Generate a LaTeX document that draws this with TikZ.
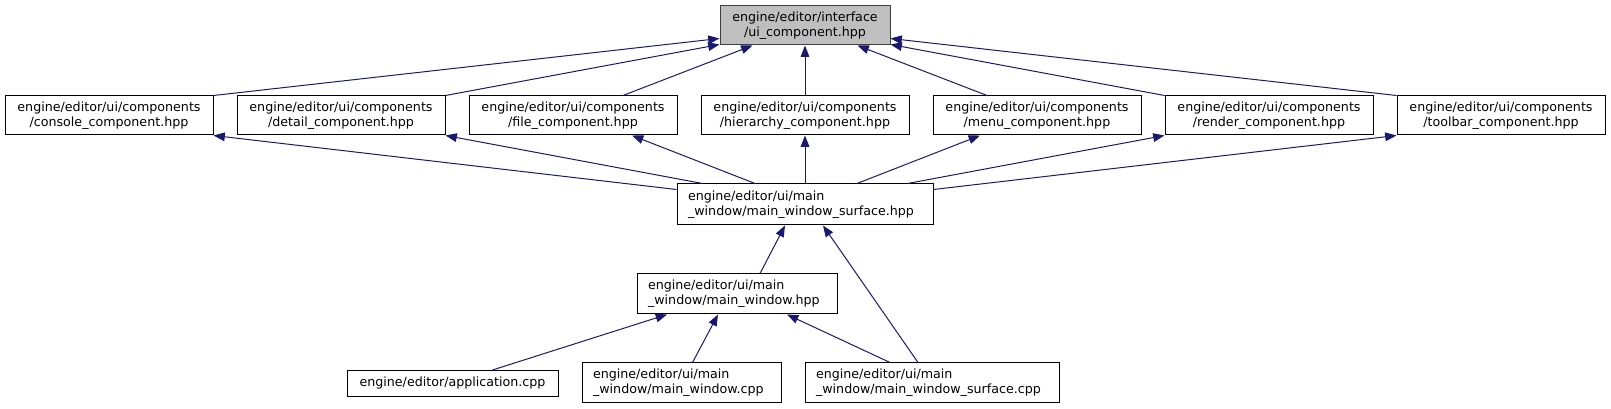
\documentclass[tikz,border=0pt]{standalone}
\usepackage{fontspec}
\setmainfont{DejaVu Sans}
\usetikzlibrary{arrows.meta,calc}
\definecolor{edgecol}{HTML}{191970}
\definecolor{topfill}{HTML}{BFBFBF}
\definecolor{topdraw}{HTML}{404040}
\tikzset{
  box/.style={draw=black, line width=0.75pt, fill=white, inner ysep=0pt, inner xsep=0pt,
    font=\fontsize{9.5}{11.2}\selectfont, anchor=center},
  cbox/.style={box, align=center},
  lbox/.style={box, align=left, inner xsep=8.25pt},
  edge/.style={draw=edgecol, line width=0.75pt, -{Triangle[length=8.5pt,width=6.5pt]}},
}
\begin{document}
\begin{tikzpicture}[x=0.75pt,y=-0.75pt]
\useasboundingbox (0,0) rectangle (1611,409);
% top
\node[cbox, fill=topfill, draw=topdraw, text width=127.5pt, minimum height=29.25pt] (top) at (805,25.5)
  {engine/editor/interface\\/ui\_component.hpp};
% row 2
\node[cbox, text width=156pt, minimum height=29.25pt] (console) at (109,115.5)
  {engine/editor/ui/components\\/console\_component.hpp};
\node[cbox, text width=156pt, minimum height=29.25pt] (detail) at (341,115.5)
  {engine/editor/ui/components\\/detail\_component.hpp};
\node[cbox, text width=156pt, minimum height=29.25pt] (file) at (573,115.5)
  {engine/editor/ui/components\\/file\_component.hpp};
\node[cbox, text width=156pt, minimum height=29.25pt] (hier) at (805,115.5)
  {engine/editor/ui/components\\/hierarchy\_component.hpp};
\node[cbox, text width=156pt, minimum height=29.25pt] (menu) at (1037,115.5)
  {engine/editor/ui/components\\/menu\_component.hpp};
\node[cbox, text width=156pt, minimum height=29.25pt] (render) at (1269,115.5)
  {engine/editor/ui/components\\/render\_component.hpp};
\node[cbox, text width=156pt, minimum height=29.25pt] (toolbar) at (1501,115.5)
  {engine/editor/ui/components\\/toolbar\_component.hpp};
% row 3
\node[lbox, text width=175.5pt, minimum height=30.75pt] (mws) at (805,204.5)
  {engine/editor/ui/main\\\_window/main\_window\_surface.hpp};
% row 4
\node[lbox, text width=133.5pt, minimum height=30pt] (mw) at (737,294)
  {engine/editor/ui/main\\\_window/main\_window.hpp};
% row 5
\node[cbox, text width=158.25pt, minimum height=19.5pt] (app) at (452.5,383.5)
  {engine/editor/application.cpp};
\node[lbox, text width=132.75pt, minimum height=30pt] (mwcpp) at (681.5,383)
  {engine/editor/ui/main\\\_window/main\_window.cpp};
\node[lbox, text width=174pt, minimum height=30pt] (mwscpp) at (932,383)
  {engine/editor/ui/main\\\_window/main\_window\_surface.cpp};
% edges to top
\draw[edge] (console.north east) -- ($(top.south west)+(0,-7)$);
\draw[edge] (detail.north east) -- ($(top.south west)+(0,-1)$);
\draw[edge] ($(file.north)+(50,0)$) -- ($(top.south west)+(33,0)$);
\draw[edge] (hier.north) -- (top.south);
\draw[edge] ($(menu.north)+(-50,0)$) -- ($(top.south east)+(-33,0)$);
\draw[edge] (render.north west) -- ($(top.south east)+(0,-1)$);
\draw[edge] (toolbar.north west) -- ($(top.south east)+(0,-7)$);
% edges from mws to row 2
\draw[edge] ($(mws.north west)+(0,6)$) -- (console.south east);
\draw[edge] ($(mws.north west)+(26,0)$) -- (detail.south east);
\draw[edge] ($(mws.north)+(-50,0)$) -- ($(file.south)+(59,0)$);
\draw[edge] (mws.north) -- (hier.south);
\draw[edge] ($(mws.north)+(52,0)$) -- ($(menu.south)+(-57,0)$);
\draw[edge] ($(mws.north east)+(-26,0)$) -- (render.south west);
\draw[edge] ($(mws.north east)+(0,6)$) -- (toolbar.south west);
% lower edges
\draw[edge] ($(mw.north)+(23,0)$) -- ($(mws.south)+(-20,0)$);
\draw[edge] ($(mwscpp.north)+(-14,0)$) -- ($(mws.south)+(18,0)$);
\draw[edge] ($(app.north)+(40,0)$) -- ($(mw.south)+(-70,0)$);
\draw[edge] ($(mwcpp.north)+(11,0)$) -- ($(mw.south)+(-19,0)$);
\draw[edge] ($(mwscpp.north)+(-42,0)$) -- ($(mw.south)+(50,0)$);
\end{tikzpicture}
\end{document}
